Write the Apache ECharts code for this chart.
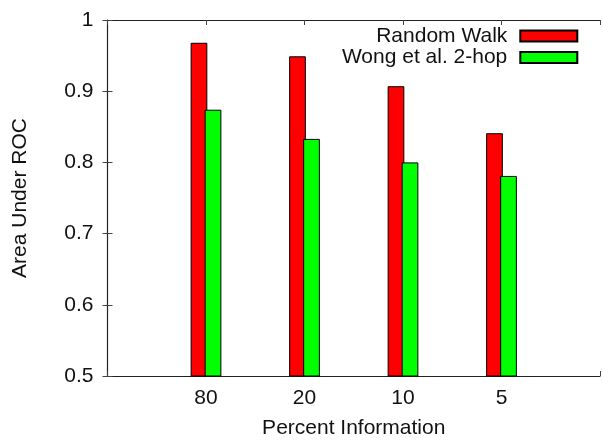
<!DOCTYPE html>
<html>
<head>
<meta charset="utf-8">
<script src="https://cdn.jsdelivr.net/npm/echarts@6/dist/echarts.min.js"></script>
<style>html,body{margin:0;padding:0;background:#fff;overflow:hidden}#c{width:603px;height:444px}</style>
</head>
<body>
<div id="c"></div>
<script>
const categories = ['80', '20', '10', '5'];
const randomWalk = [0.968, 0.949, 0.907, 0.841];
const wong2hop = [0.874, 0.833, 0.800, 0.781];
const seriesNames = ['Random Walk', 'Wong et al. 2-hop'];
const yTicks = [0.5, 0.6, 0.7, 0.8, 0.9, 1];

const FONT = 'Liberation Sans';
const FS = 21;
const chart = echarts.init(document.getElementById('c'), null, {renderer: 'canvas', width: 603, height: 444});
const toPairs = arr => arr.map((v, i) => [i + 1, v]);
const axisLine = {show: true, lineStyle: {color: '#222', width: 1.2}};
const tick = {show: true, inside: true, length: 5, lineStyle: {color: '#444', width: 1}};

chart.setOption({
  animation: false,
  backgroundColor: '#fff',
  grid: {left: 107.5, top: 20, right: -1, bottom: 64},
  legend: {
    orient: 'vertical', right: 24.7, top: 25.5, align: 'right', padding: 0,
    itemWidth: 57, itemHeight: 11, itemGap: 0.5,
    textStyle: {fontFamily: FONT, fontSize: FS, color: '#111', lineHeight: 21, padding: [0, 8, 0, 0]},
    data: seriesNames.map(n => ({name: n, icon: 'rect'}))
  },
  xAxis: [{
    type: 'value', min: 0, max: categories.length + 1, interval: 1, position: 'bottom',
    axisLine, axisTick: tick, splitLine: {show: false},
    axisLabel: {fontFamily: FONT, fontSize: FS, color: '#111', margin: 12,
      formatter: v => categories[v - 1] || ''},
    name: 'Percent Information', nameLocation: 'middle', nameGap: 42,
    nameTextStyle: {fontFamily: FONT, fontSize: FS, color: '#111'}
  }, {
    type: 'value', min: 0, max: categories.length + 1, interval: 1, position: 'top',
    axisLine, axisTick: tick, axisLabel: {show: false}, splitLine: {show: false}
  }],
  yAxis: [{
    type: 'value', min: yTicks[0], max: yTicks[yTicks.length - 1], interval: 0.1,
    axisLine, axisTick: tick, splitLine: {show: false},
    axisLabel: {fontFamily: FONT, fontSize: FS, color: '#111', margin: 14,
      formatter: v => String(+v.toFixed(1))},
    name: 'Area Under ROC', nameLocation: 'middle', nameGap: 77, nameRotate: 90,
    nameTextStyle: {fontFamily: FONT, fontSize: FS, color: '#111'}
  }, {
    type: 'value', min: yTicks[0], max: yTicks[yTicks.length - 1], interval: 0.1, position: 'right',
    axisLine: {show: false}, axisTick: tick, axisLabel: {show: false}, splitLine: {show: false}
  }],
  series: [{
    name: seriesNames[0], type: 'bar', data: toPairs(randomWalk),
    barWidth: 16.7, barGap: '-16%',
    itemStyle: {color: '#ff0000', borderColor: '#000', borderWidth: 1}
  }, {
    name: seriesNames[1], type: 'bar', data: toPairs(wong2hop),
    barWidth: 16.7, barGap: '-16%',
    itemStyle: {color: '#00ff00', borderColor: '#000', borderWidth: 1}
  }]
});
</script>
</body>
</html>
